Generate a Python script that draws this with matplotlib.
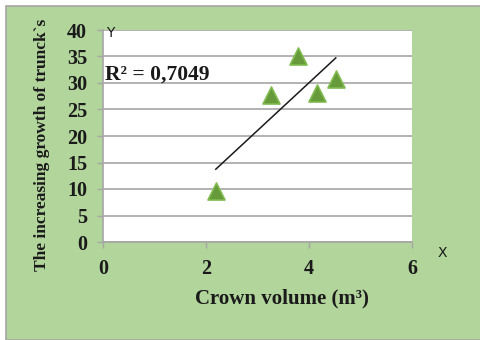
import numpy as np
import matplotlib
matplotlib.use("Agg")
import matplotlib.pyplot as plt
from matplotlib.patches import Rectangle

crown_volume = [2.19, 3.26, 3.78, 4.15, 4.52]
trunk_growth = [9.7, 27.7, 35.0, 28.2, 30.7]
x_ticks = [0, 2, 4, 6]
y_ticks = [0, 5, 10, 15, 20, 25, 30, 35, 40]
r2_label = "R² = 0,7049"

W, H = 481, 340
fig = plt.figure(figsize=(W / 100, H / 100), dpi=100)
fig.patch.set_facecolor("white")
fig.patches.append(Rectangle((6 / W, 0), (W - 6) / W, (H - 6) / H,
                             transform=fig.transFigure, facecolor="#b2d59c",
                             edgecolor="#a6a6a6", linewidth=1.2, zorder=-5))

ax = fig.add_axes([103 / W, 1 - 242 / H, (412 - 103) / W, (242 - 30) / H])
ax.set_zorder(2)
ax.set_facecolor("white")
ax.set_xlim(0, 6)
ax.set_ylim(0, 40)
ax.set_xticks(x_ticks)
ax.set_yticks(y_ticks)
serif = "Liberation Serif"
for lab in ax.get_xticklabels() + ax.get_yticklabels():
    lab.set_fontfamily(serif)
    lab.set_fontweight("bold")
    lab.set_fontsize(14.5)
    lab.set_color("#1a1a1a")
ax.tick_params(axis="both", direction="out", length=4.5, color="#a6a6a6", width=1)
ax.tick_params(axis="y", pad=7)
ax.tick_params(axis="x", pad=8)
ax.grid(axis="y", color="#a6a6a6", linewidth=1.2)
ax.set_axisbelow(True)
for s in ["top", "right"]:
    ax.spines[s].set_visible(False)
for s in ["left", "bottom"]:
    ax.spines[s].set_color("#a6a6a6")
    ax.spines[s].set_linewidth(1.2)

ax.scatter(crown_volume, trunk_growth, marker="^", s=150, facecolor="#679a3a",
           edgecolor="#7fbb4e", linewidth=1.2, zorder=3, clip_on=False)

k, b = np.polyfit(crown_volume, trunk_growth, 1)
xs = np.array([min(crown_volume), max(crown_volume)])
ax.plot(xs, k * xs + b, color="#1a1a1a", linewidth=1.1, zorder=4)

ax.text(0.03, 31.6, r2_label, fontfamily=serif, fontweight="bold", fontsize=15.5,
        va="center", ha="left", color="#1a1a1a")

fig.text(106 / W, 1 - 33 / H, "Y", fontsize=10, ha="left", va="center", color="#1a1a1a")
fig.text(442 / W, 1 - 253 / H, "X", fontsize=10, ha="center", va="center", color="#1a1a1a")
fig.text(282 / W, 1 - 298 / H, "Crown volume (m³)", fontfamily=serif, fontweight="bold",
         fontsize=15, ha="center", va="center", color="#1a1a1a")
fig.text(42 / W, 1 - 145 / H, "The increasing growth of trunck`s", fontfamily=serif,
         fontweight="bold", fontsize=12.5, rotation=90, ha="center", va="center", color="#1a1a1a")

fig.savefig("out.png", dpi=100)
